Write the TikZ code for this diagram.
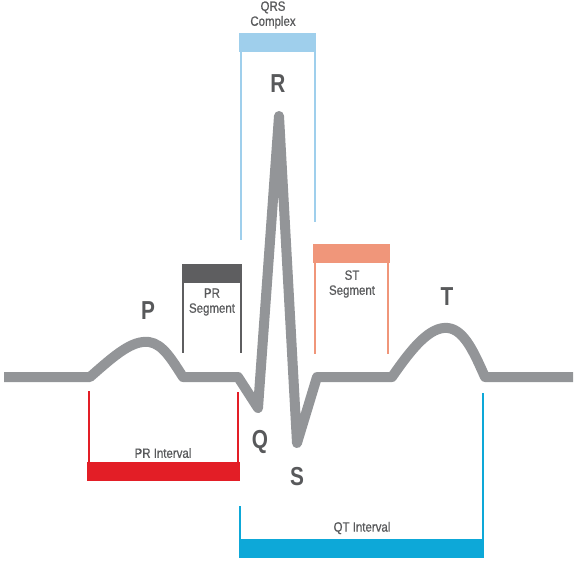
\documentclass[tikz,border=0pt]{standalone}
\usepackage{fontspec}
\setmainfont{Liberation Sans}[FakeStretch=0.8]
\newfontfamily\lblfont{Liberation Sans}[FakeStretch=0.85, FakeBold=0.7]
\definecolor{ecggray}{RGB}{147,149,152}
\definecolor{txtgray}{RGB}{88,89,91}
\definecolor{qrsblue}{RGB}{159,207,236}
\definecolor{prseggray}{RGB}{94,94,96}
\definecolor{stsalmon}{RGB}{240,150,122}
\definecolor{prred}{RGB}{227,30,38}
\definecolor{qtblue}{RGB}{13,168,216}
\begin{document}
\begin{tikzpicture}[x=1pt,y=-1pt,
  wave/.style={line width=10pt, ecggray, line join=round},
  leg/.style={line width=2pt},
  lbl/.style={text=txtgray, font=\lblfont\fontsize{13.5}{15}\selectfont, align=center, inner sep=0pt},
  big/.style={text=txtgray, font=\fontsize{26}{28}\selectfont\bfseries, inner sep=0pt}]
  \useasboundingbox (0,0) rectangle (575,562);

  % the trace
  \draw[wave] (4,377) -- (90,377)
    .. controls (115,355) and (132,340) .. (149,342)
    .. controls (163,344) and (172,360) .. (183,377)
    -- (238,377) -- (258,408) -- (279,116) -- (297,443) -- (317,377) -- (392,377)
    .. controls (412,348) and (430,326) .. (448,328)
    .. controls (465,330) and (475,355) .. (485,377) -- (573,377);

  % brackets above the trace
  \fill[qrsblue] (239,33) rectangle (316,52);
  \draw[leg,qrsblue] (241,52)--(241,240);
  \draw[leg,qrsblue] (315,52)--(315,222);

  \fill[prseggray] (182,264) rectangle (242,283);
  \draw[leg,prseggray] (183,283)--(183,353);
  \draw[leg,prseggray] (241,283)--(241,353);

  \fill[stsalmon] (313,244) rectangle (390,263);
  \draw[leg,stsalmon] (315,263)--(315,354);
  \draw[leg,stsalmon] (388,263)--(388,354);

  % brackets below the trace
  \fill[prred] (87,462) rectangle (240,481);
  \draw[leg,prred] (89,391)--(89,462);
  \draw[leg,prred] (238,392)--(238,462);

  \fill[qtblue] (239,539) rectangle (484,558);
  \draw[leg,qtblue] (240,506)--(240,539);
  \draw[leg,qtblue] (483,393)--(483,539);

  % labels
  \node[lbl] (qrs) at (273,15) {QRS\\Complex};
  \node[lbl] (prseg) at (212,302) {PR\\Segment};
  \node[lbl] (stseg) at (352,284) {ST\\Segment};
  \node[lbl] (print) at (163,453) {PR Interval};
  \node[lbl] (qtint) at (362,528) {QT Interval};

  \node[big] (P) at (148,311) {P};
  \node[big] (Q) at (260,442) {Q};
  \node[big] (R) at (278,84) {R};
  \node[big] (S) at (297,477) {S};
  \node[big] (T) at (447,297) {T};
\end{tikzpicture}
\end{document}
